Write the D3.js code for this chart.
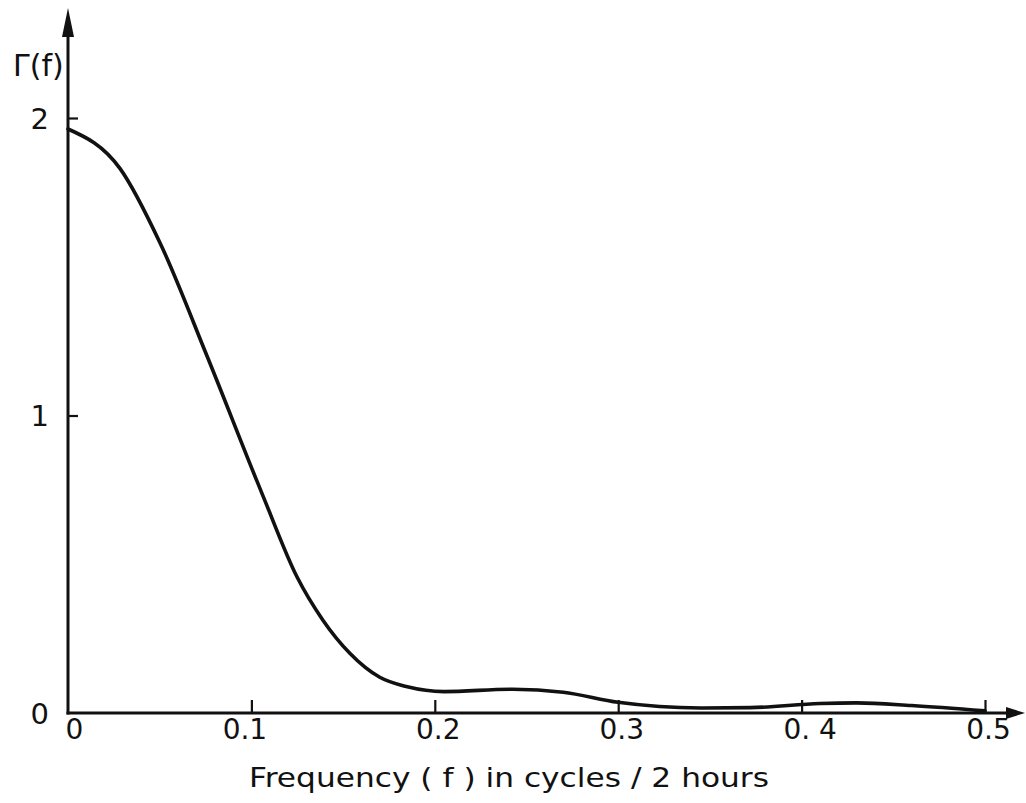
<!DOCTYPE html>
<html>
<head>
<meta charset="utf-8">
<script src="https://cdn.jsdelivr.net/npm/d3@7"></script>
<style>
  html, body { margin: 0; padding: 0; background: #fff; }
  svg { display: block; }
  text { font-family: "DejaVu Sans", sans-serif; fill: #111; }
</style>
</head>
<body>
<svg id="chart" width="1026" height="803"></svg>
<script>
// Spectral density Γ(f) against frequency (cycles per 2 hours)
const freq  = [0, 0.0284, 0.0502, 0.0758, 0.1063, 0.1249, 0.139, 0.1538, 0.170, 0.185,
               0.205, 0.2426, 0.270, 0.300, 0.345, 0.372, 0.410, 0.430, 0.460, 0.500];
const gamma = [1.963, 1.83, 1.58, 1.20, 0.73, 0.457, 0.312, 0.20, 0.12, 0.088,
               0.072, 0.080, 0.070, 0.036, 0.017, 0.018, 0.032, 0.034, 0.025, 0.007];

const xTicks = [0, 0.1, 0.2, 0.3, 0.4, 0.5];
const xTickLabels = ["0", "0.1", "0.2", "0.3", "0. 4", "0.5"];
const yTicks = [0, 1, 2];
const yTickLabels = ["0", "1", "2"];

const xTitle = "Frequency ( f ) in cycles / 2 hours";
const yTitle = "Γ(f)";

const svg = d3.select("#chart");
const ink = "#111";

const x = d3.scaleLinear().domain([0, 0.5]).range([68, 985]);
const y = d3.scaleLinear().domain([0, 2]).range([713, 118]);

// x axis: ticks point up into the plot, labels sit below
const xAxis = d3.axisBottom(x)
  .tickValues(xTicks)
  .tickSizeInner(-13)
  .tickSizeOuter(0)
  .tickPadding(6)
  .tickFormat((d, i) => xTickLabels[i]);

const gx = svg.append("g")
  .attr("transform", `translate(0,${y(0)})`)
  .call(xAxis);
gx.select(".domain").remove();
gx.selectAll(".tick line").attr("stroke", ink).attr("stroke-width", 2.2)
  .filter(d => d === 0).remove();
gx.selectAll(".tick text")
  .attr("font-size", 28)
  .attr("font-family", "DejaVu Sans, sans-serif")
  .attr("fill", ink)
  .attr("dx", (d) => d === 0 ? 6 : (d === 0.1 ? -7 : (d === 0.4 ? 8 : 3)));

// y axis: ticks point right into the plot, labels on the left
const yAxis = d3.axisLeft(y)
  .tickValues(yTicks)
  .tickSizeInner(-10)
  .tickSizeOuter(0)
  .tickPadding(19)
  .tickFormat((d, i) => yTickLabels[i]);

const gy = svg.append("g")
  .attr("transform", `translate(${x(0)},0)`)
  .call(yAxis);
gy.select(".domain").remove();
gy.selectAll(".tick line").attr("stroke", ink).attr("stroke-width", 2.2)
  .filter(d => d === 0).remove();
gy.selectAll(".tick text")
  .attr("font-size", 29)
  .attr("font-family", "DejaVu Sans, sans-serif")
  .attr("fill", ink)
  .attr("dy", "0.36em");

// axis lines with arrowheads
const x0 = x(0), y0 = y(0);
svg.append("line")
  .attr("x1", x0).attr("y1", y0 + 1.5)
  .attr("x2", x0).attr("y2", 34)
  .attr("stroke", ink).attr("stroke-width", 3);
svg.append("path")
  .attr("d", `M${x0},8 L${x0 - 6},37 L${x0 + 6},37 Z`)
  .attr("fill", ink);

svg.append("line")
  .attr("x1", x0 - 1.5).attr("y1", y0)
  .attr("x2", 1010).attr("y2", y0)
  .attr("stroke", ink).attr("stroke-width", 3);
svg.append("path")
  .attr("d", `M1025,${y0} L1006,${y0 - 6} L1006,${y0 + 6} Z`)
  .attr("fill", ink);

// spectrum curve
const line = d3.line()
  .x((d, i) => x(freq[i]))
  .y((d, i) => y(gamma[i]))
  .curve(d3.curveMonotoneX);

svg.append("path")
  .datum(gamma)
  .attr("d", line)
  .attr("fill", "none")
  .attr("stroke", ink)
  .attr("stroke-width", 3.6)
  .attr("stroke-linejoin", "round")
  .attr("stroke-linecap", "round");

// axis titles
svg.append("text")
  .attr("x", 13).attr("y", 76)
  .attr("font-size", 30)
  .text(yTitle);

svg.append("text")
  .attr("x", 249).attr("y", 787)
  .attr("font-size", 27)
  .attr("textLength", 520)
  .attr("lengthAdjust", "spacingAndGlyphs")
  .text(xTitle);
</script>
</body>
</html>
